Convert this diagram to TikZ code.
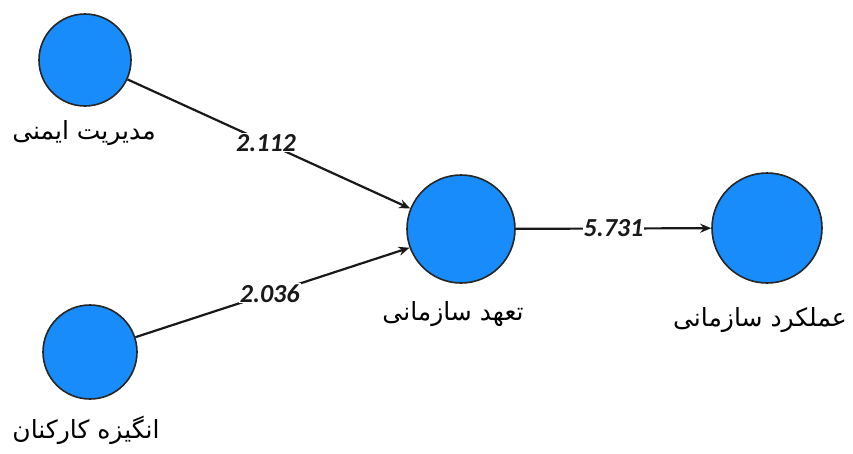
\documentclass[tikz,border=0pt]{standalone}
\usepackage{fontspec}
\usetikzlibrary{arrows.meta}
\TeXXeTstate=1
\newfontfamily\arabicfont[Script=Arabic]{DejaVu Sans}
\newfontfamily\numfont{Carlito}
\definecolor{nodeblue}{RGB}{24,140,250}
\definecolor{edgegray}{RGB}{25,25,25}
\tikzset{
  latent/.style={circle, draw=black!85, line width=1.6pt, fill=nodeblue, inner sep=0pt},
  caption/.style={font=\arabicfont\fontsize{25}{29}\selectfont, text=black},
  path/.style={draw=edgegray, line width=2.2pt, -{Stealth[length=11pt,width=9pt]}},
  coef/.style={font=\numfont\bfseries\itshape\fontsize{26}{30}\selectfont, text=black!90, fill=white, inner sep=1pt}
}
\begin{document}
\begin{tikzpicture}[x=1pt,y=-1pt]
\useasboundingbox (0,0) rectangle (853,453);
\fill[white] (0,0) rectangle (853,453);

% latent constructs
\node[latent, minimum size=92pt]  (safety) at (85,60)   {};
\node[latent, minimum size=94pt]  (motiv)  at (90,352)  {};
\node[latent, minimum size=108pt] (commit) at (461,229) {};
\node[latent, minimum size=110pt] (perf)   at (767,228) {};

% construct names
\node[caption] (safetyL) at (84,133)  {\beginR مدیریت ایمنی\endR};
\node[caption] (motivL)  at (86,430)  {\beginR انگیزه کارکنان\endR};
\node[caption] (commitL) at (453,314) {\beginR تعهد سازمانی\endR};
\node[caption] (perfL)   at (760,320) {\beginR عملکرد سازمانی\endR};

% structural paths with t-values
\draw[path] (safety) -- node[coef, pos=0.49] {2.112} (commit.158);
\draw[path] (motiv)  -- node[coef, pos=0.49] {2.036} (commit.200);
\draw[path] (commit) -- node[coef, pos=0.5]  {5.731} (perf);
\end{tikzpicture}
\end{document}
